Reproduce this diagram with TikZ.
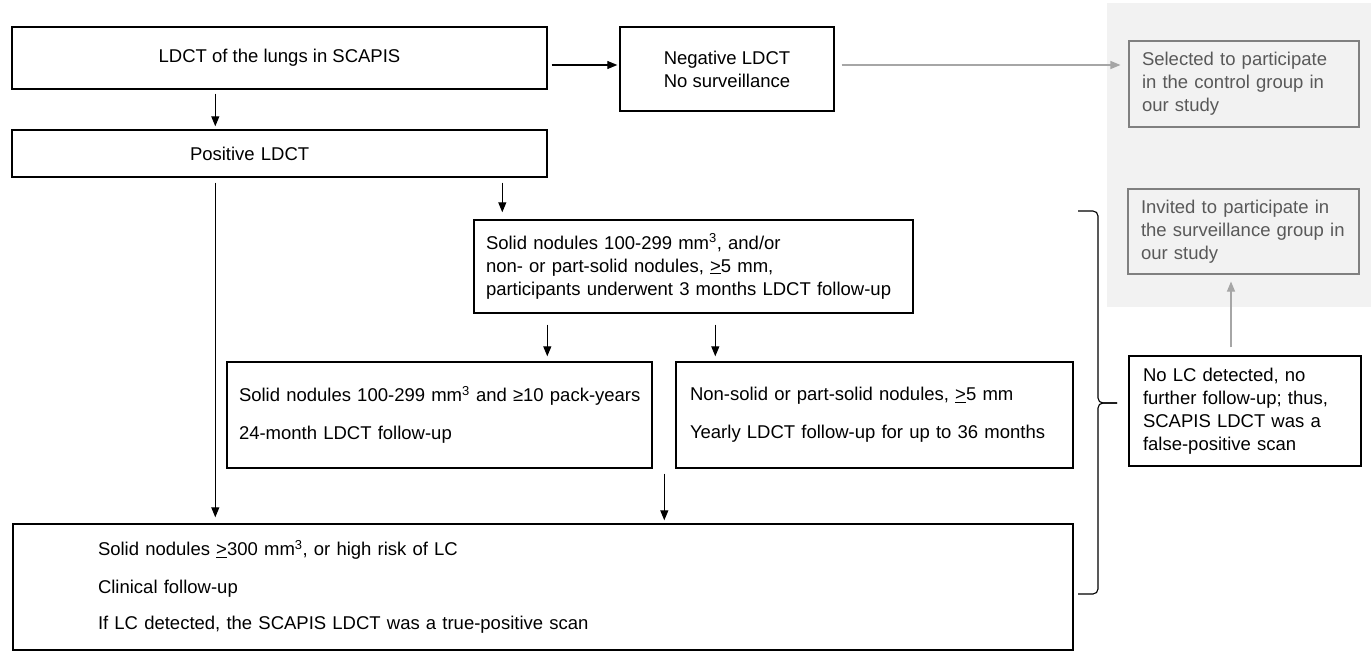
\documentclass[tikz,border=0pt]{standalone}
\usepackage{fontspec}
\setmainfont{Liberation Sans}
\usetikzlibrary{positioning, arrows.meta, calc}
\usepackage{xcolor}
\definecolor{panelgray}{HTML}{F2F2F2}
\definecolor{framegray}{HTML}{808080}
\definecolor{linkgray}{HTML}{A6A6A6}
\definecolor{notegray}{HTML}{595959}

\begin{document}
\begin{tikzpicture}[
      x=1pt, y=-1pt,
      every node/.style={font=\fontsize{18.5}{23}\selectfont},
      blk/.style={draw, line width=1.4pt, align=left, inner ysep=0pt},
      grp/.style={draw=framegray, line width=1.1pt, text=notegray, align=left, inner ysep=0pt, inner xsep=13pt, text width=204pt},
      >={Triangle[length=10pt, width=8pt]},
      arr/.style={->, line width=1.1pt},
      garr/.style={->, draw=linkgray, line width=1.1pt},
    ]
    \useasboundingbox (0,0) rectangle (1371,653);
    \fill[panelgray] (1107,3) rectangle (1371,307);

    \node[blk, minimum width=535pt, minimum height=62pt, align=center] (scan) at (279.5,58) {\raisebox{-3pt}{LDCT of the lungs in SCAPIS}};
    \node[blk, inner xsep=178pt, text width=179pt, minimum height=47pt] (pos) at (279.5,153.5) {Positive LDCT};
    \node[blk, minimum width=214pt, minimum height=84pt] (neg) at (727,69) {Negative LDCT\\No surveillance};

    \node[grp, minimum height=86pt] (sel) at (1244,84) {Selected to participate\\in the control group in\\our study};
    \node[grp, minimum height=85pt, text width=205pt] (inv) at (1243.5,231.5) {Invited to participate in\\the surveillance group in\\our study};
    \node[blk, line width=1.3pt, inner xsep=14pt, text width=204pt, minimum height=110pt] (nolc) at (1245,411) {No LC detected, no\\further follow-up; thus,\\SCAPIS LDCT was a\\false-positive scan};

    \node[blk, inner xsep=12pt, text width=415pt, minimum height=93pt] (three) at (693.5,266.5) {Solid nodules 100-299 mm\textsuperscript{3}, and/or\\non- or part-solid nodules, \underline{>}5 mm,\\participants underwent 3 months LDCT follow-up};
    \node[blk, inner xsep=12pt, text width=401pt, minimum height=106pt] (solid) at (439.5,415) {\mbox{Solid nodules 100-299 mm\textsuperscript{3} and ≥10 pack-years}\\[15pt]24-month LDCT follow-up};
    \node[blk, inner xsep=14pt, text width=369pt, minimum height=106pt] (nonsolid) at (874.5,415) {Non-solid or part-solid nodules, \underline{>}5 mm\\[15pt]Yearly LDCT follow-up for up to 36 months};
    \node[blk, inner xsep=85pt, text width=890pt, minimum height=126pt] (clin) at (543,587) {Solid nodules \underline{>}300 mm\textsuperscript{3}, or high risk of LC\\[15pt]Clinical follow-up\\[13pt]If LC detected, the SCAPIS LDCT was a true-positive scan};

    \draw[arr, shorten <=4pt, shorten >=3pt] ([xshift=204pt]scan.south west) -- ([xshift=204pt]pos.north west);
    \draw[arr, shorten <=4pt, shorten >=2pt] ([yshift=-7pt]scan.east) -- ([yshift=-7pt]scan.east -| neg.west);
    \draw[garr, shorten <=7pt, shorten >=8pt] ([yshift=4pt]neg.east) -- ([yshift=4pt]neg.east -| sel.west);
    \draw[arr, shorten <=5pt, shorten >=7pt] ([xshift=491pt]pos.south west) -- ([xshift=491pt]pos.south west |- three.north);
    \draw[arr, shorten <=5pt, shorten >=6pt] ([xshift=204pt]pos.south west) -- ([xshift=204pt]pos.south west |- clin.north);
    \draw[arr, shorten <=11pt, shorten >=5pt] ([xshift=74pt]three.south west) -- ([xshift=74pt]three.south west |- solid.north);
    \draw[arr, shorten <=11pt, shorten >=5pt] ([xshift=242pt]three.south west) -- ([xshift=242pt]three.south west |- nonsolid.north);
    \draw[arr, shorten <=5pt, shorten >=3pt] ([xshift=-11pt]nonsolid.south west) -- ([xshift=-11pt]nonsolid.south west |- clin.north);
    \draw[garr, shorten <=8pt, shorten >=7pt] ([xshift=-14pt]nolc.north) -- ([xshift=-14pt]nolc.north |- inv.south);

    \coordinate (bracetop) at (1078,211);
    \coordinate (bracebot) at (1078,594);
    \coordinate (bracemid) at (1098,403);
    \coordinate (bracetip) at (1117,403);
    \draw[line width=1.1pt, rounded corners=5pt] (bracetop) -| (bracemid) -- (bracetip);
    \draw[line width=1.1pt, rounded corners=5pt] (bracebot) -| (bracemid) -- (bracetip);
  \end{tikzpicture}
\end{document}
